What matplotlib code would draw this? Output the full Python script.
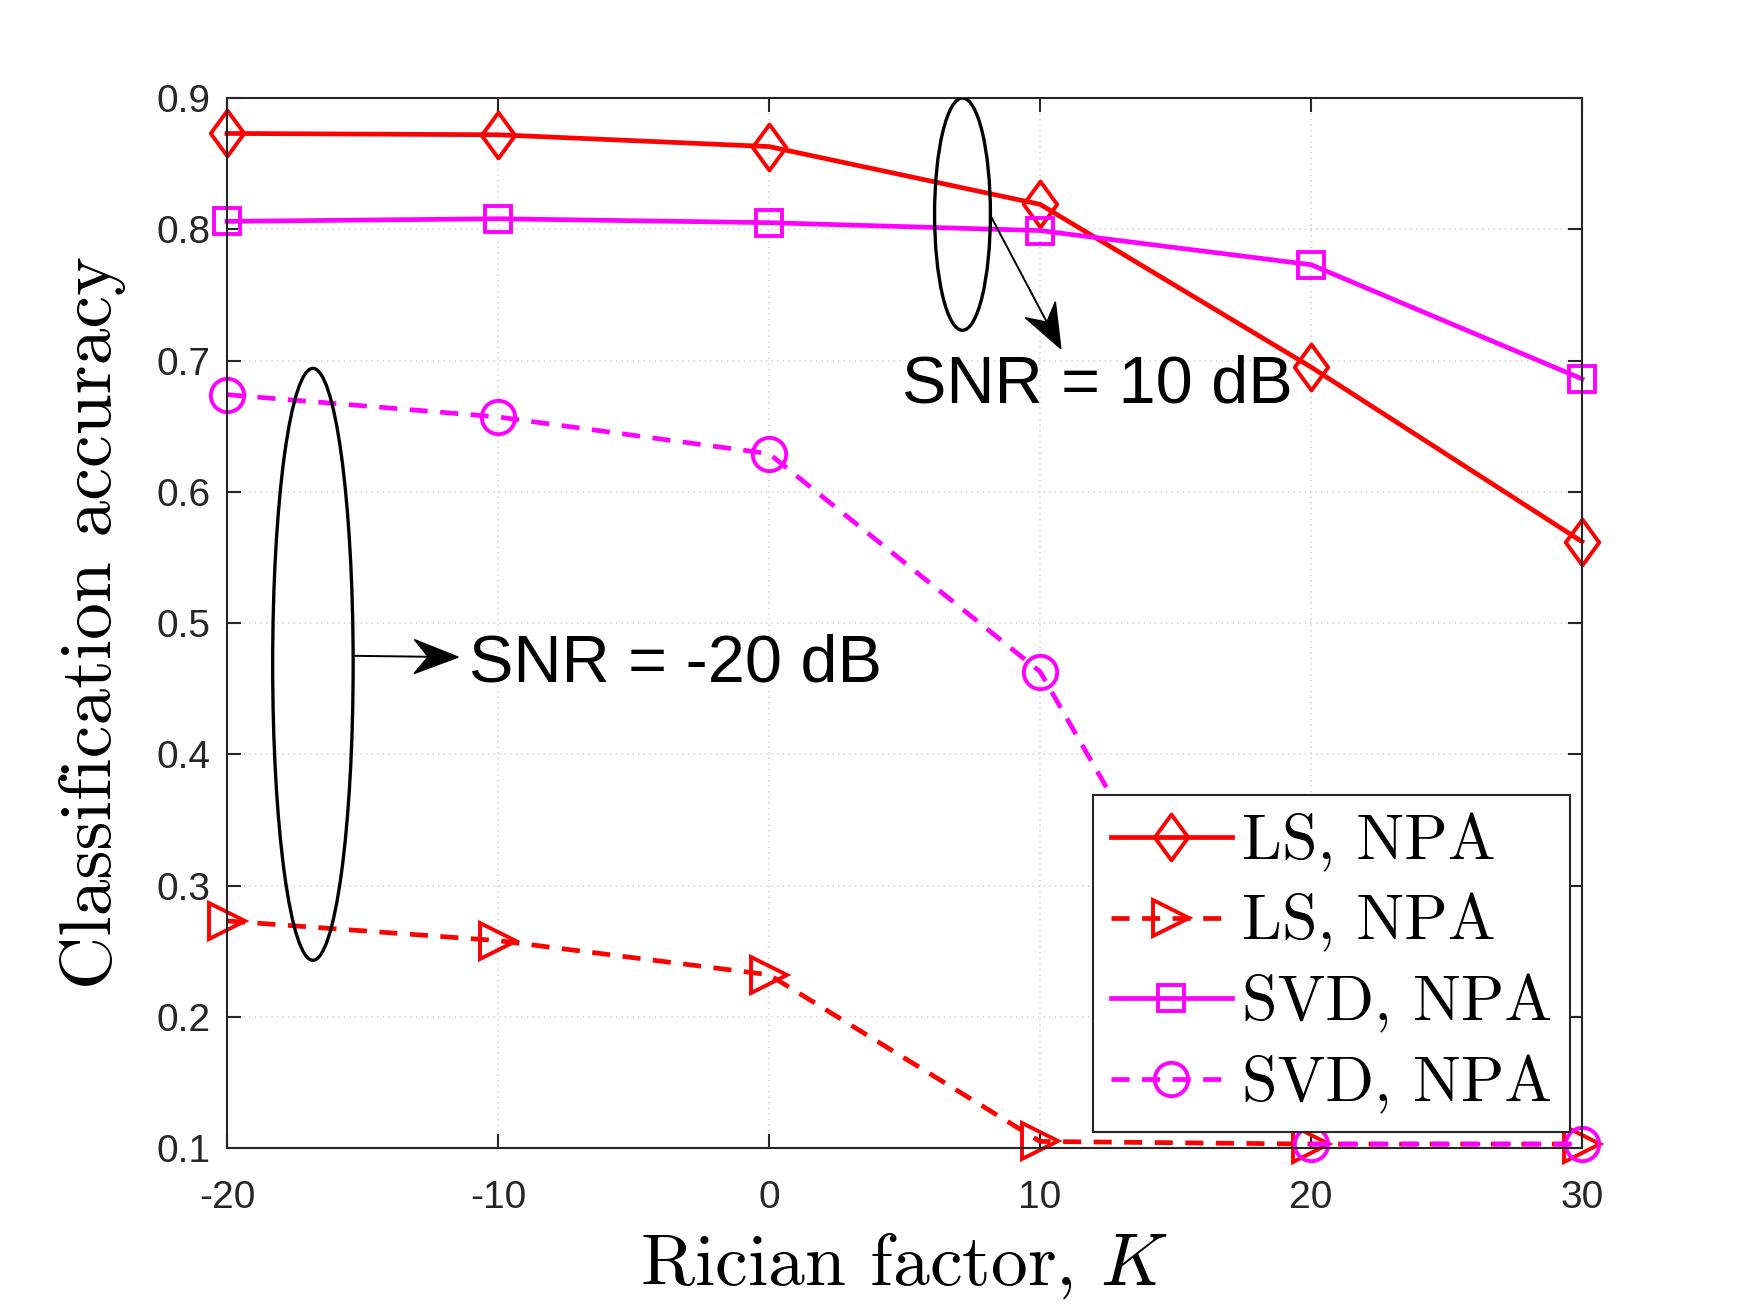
import numpy as np
import matplotlib
matplotlib.use("Agg")
import matplotlib.pyplot as plt
from matplotlib.patches import Ellipse, Polygon
from matplotlib.path import Path

# values
K = [-20, -10, 0, 10, 20, 30]
ls_snr10 = [0.873, 0.872, 0.863, 0.819, 0.695, 0.562]
ls_snrm20 = [0.273, 0.258, 0.232, 0.105, 0.103, 0.103]
svd_snr10 = [0.806, 0.808, 0.805, 0.799, 0.773, 0.686]
svd_snrm20 = [0.674, 0.657, 0.629, 0.463, 0.103, 0.103]
labels = ["LS, NPA", "LS, NPA", "SVD, NPA", "SVD, NPA"]
yticks = [0.1, 0.2, 0.3, 0.4, 0.5, 0.6, 0.7, 0.8, 0.9]

plt.rcParams["mathtext.fontset"] = "cm"
plt.rcParams["lines.scale_dashes"] = False
plt.rcParams["font.family"] = "Liberation Sans"

axcol = "#262626"
red = (1, 0, 0)
mag = (1, 0, 1)

fig = plt.figure(figsize=(17.51, 13.13), dpi=100)
ax = fig.add_axes([227 / 1751, 1 - 1148 / 1313, 1355 / 1751, 1050 / 1313])

diamond = Path([(0, 1), (0.73, 0), (0, -1), (-0.73, 0), (0, 1)], closed=True)
dash = (13, 9)
lw = 3.4
mew = 2.8

ax.plot(K, ls_snr10, "-", color=red, lw=lw, marker=diamond, ms=33,
        mfc="none", mec=red, mew=mew, label=labels[0], clip_on=False)
ax.plot(K, ls_snrm20, "--", color=red, lw=lw, dashes=dash, marker=">", ms=26,
        mfc="none", mec=red, mew=mew, label=labels[1], clip_on=False)
ax.plot(K, svd_snr10, "-", color=mag, lw=lw, marker="s", ms=19,
        mfc="none", mec=mag, mew=mew, label=labels[2], clip_on=False)
ax.plot(K, svd_snrm20, "--", color=mag, lw=lw, dashes=dash, marker="o", ms=24,
        mfc="none", mec=mag, mew=mew, label=labels[3], clip_on=False)

ax.set_xlim(-20, 30)
ax.set_ylim(0.1, 0.9)
ax.set_xticks(K)
ax.set_xticklabels([str(k) for k in K])
ax.set_yticks(yticks)
ax.set_yticklabels([f"{v:.1f}" for v in yticks])
ax.tick_params(direction="in", top=True, right=True, length=10, width=1.5,
               colors=axcol, labelsize=28)
ax.tick_params(axis="y", pad=12)
ax.tick_params(axis="x", pad=23)
for s in ax.spines.values():
    s.set_linewidth(1.5)
    s.set_color(axcol)
ax.grid(True, linestyle=(0, (1, 3)), color="#d6d6d6", lw=1.3)
ax.set_axisbelow(True)

ax.set_xlabel(r"Rician factor, $K$", fontfamily="cmr10", fontsize=53, labelpad=11)
ax.set_ylabel("Classification accuracy", fontfamily="cmr10", fontsize=53, labelpad=22)

leg = ax.legend(loc="upper left", bbox_to_anchor=(0.639, 0.336),
                prop={"family": "cmr10", "size": 46}, frameon=True, fancybox=False,
                edgecolor=axcol, framealpha=1, handlelength=1.9, handletextpad=0.15,
                borderpad=0.28, labelspacing=0.34, borderaxespad=0)
leg.get_frame().set_linewidth(1.5)
leg.set_zorder(10)

# ellipses grouping the curves
ax.add_patch(Ellipse((7.14, 0.8115), 2.06, 0.177, fill=False, ec="k", lw=2.4, zorder=5))
ax.add_patch(Ellipse((-16.83, 0.4685), 2.97, 0.451, fill=False, ec="k", lw=2.4, zorder=5))


def arrow(start, tip):
    tr = ax.transData
    p0 = np.array(tr.transform(start))
    p1 = np.array(tr.transform(tip))
    d = (p1 - p0) / np.linalg.norm(p1 - p0)
    n = np.array([-d[1], d[0]])
    hl, hw, notch = 44, 17, 30
    back = p1 - d * hl
    pts = [p1, back + n * hw, p1 - d * notch, back - n * hw]
    end = tr.inverted().transform(p1 - d * notch)
    ax.plot([start[0], end[0]], [start[1], end[1]], color="k", lw=1.4, zorder=5)
    ax.add_patch(Polygon(tr.inverted().transform(pts), closed=True, fc="k",
                         ec="k", lw=1, zorder=5))


arrow((8.21, 0.809), (10.77, 0.709))
arrow((-15.35, 0.475), (-11.47, 0.474))

ax.text(4.92, 0.681, "SNR = 10 dB", fontsize=48, va="center", ha="left", color="k")
ax.text(-11.06, 0.4685, "SNR = -20 dB", fontsize=48, va="center", ha="left", color="k")

fig.savefig("out.png", dpi=100)
